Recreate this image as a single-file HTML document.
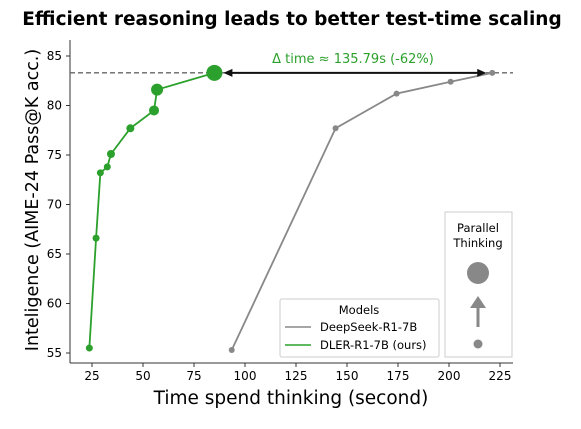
<!DOCTYPE html>
<html><head><meta charset="utf-8"><style>
body{margin:0;background:#fff;}
svg text{font-family:"DejaVu Sans","Liberation Sans",sans-serif;}
</style></head><body>
<svg width="581" height="424" viewBox="0 0 581 424" xmlns="http://www.w3.org/2000/svg">
<text x="292" y="25" text-anchor="middle" font-size="18.5" font-weight="bold">Efficient reasoning leads to better test-time scaling</text>
<g id="axes"></g>
<g id="marks"></g>
<text x="291" y="404" text-anchor="middle" font-size="18.5">Time spend thinking (second)</text>
<text transform="translate(38,200) rotate(-90)" text-anchor="middle" font-size="17.5">Inteligence (AIME-24 Pass@K acc.)</text>
<text x="353" y="63" text-anchor="middle" font-size="13" fill="#2ca02c">Δ time ≈ 135.79s (-62%)</text>
<g>
<rect x="280" y="299" width="159" height="58" fill="#fff" stroke="#ccc" rx="2"/>
<text x="359" y="314" text-anchor="middle" font-size="11.5">Models</text>
<line x1="285" y1="327" x2="311" y2="327" stroke="#888" stroke-width="1.6"/>
<text x="320" y="331" font-size="11.5">DeepSeek-R1-7B</text>
<line x1="285" y1="345" x2="311" y2="345" stroke="#2ca02c" stroke-width="1.6"/>
<text x="320" y="349" font-size="11.5">DLER-R1-7B (ours)</text>
</g>
<g>
<rect x="445" y="212" width="67" height="145" fill="#fff" stroke="#ccc"/>
<text x="478" y="232" text-anchor="middle" font-size="11.5">Parallel</text>
<text x="478" y="247" text-anchor="middle" font-size="11.5">Thinking</text>
<circle cx="478" cy="273" r="11" fill="#888"/>
<line x1="478" y1="327" x2="478" y2="305" stroke="#888" stroke-width="3"/>
<polygon points="470,308 486,308 478,296" fill="#888"/>
<circle cx="478" cy="344" r="4.5" fill="#888"/>
</g>
</svg>
<script>
const dlerTime=[23.7,27,29.1,32.5,34.3,43.8,55.4,56.9,85];
const dlerAcc=[55.5,66.6,73.2,73.8,75.1,77.7,79.5,81.6,83.3];
const dlerSize=[3.5,3.5,3.5,3.5,4,4,5,6,8];
const dsTime=[93.5,144.4,174.3,200.8,221.2];
const dsAcc=[55.3,77.7,81.2,82.4,83.3];
const xTicks=[25,50,75,100,125,150,175,200,225];
const yTicks=[55,60,65,70,75,80,85];
const NS="http://www.w3.org/2000/svg";
const xs=v=>92+(v-25)*2.04;
const ys=v=>353-(v-55)*9.9;
function mk(t,a,p){const e=document.createElementNS(NS,t);for(const k in a)e.setAttribute(k,a[k]);p.appendChild(e);return e;}
const ax=document.getElementById('axes'),mg=document.getElementById('marks');
mk('line',{x1:70,y1:363,x2:513,y2:363,stroke:'#333','stroke-width':1},ax);
mk('line',{x1:70,y1:40,x2:70,y2:363,stroke:'#333','stroke-width':1},ax);
xTicks.forEach(v=>{mk('line',{x1:xs(v),y1:363,x2:xs(v),y2:367,stroke:'#333'},ax);
const t=mk('text',{x:xs(v),y:380,'text-anchor':'middle','font-size':12},ax);t.textContent=v;

});
yTicks.forEach(v=>{mk('line',{x1:66,y1:ys(v),x2:70,y2:ys(v),stroke:'#333'},ax);
const t=mk('text',{x:62,y:ys(v)+4,'text-anchor':'end','font-size':12},ax);t.textContent=v;

});
const ref=dlerAcc[dlerAcc.length-1];
mk('line',{x1:70,y1:ys(ref),x2:513,y2:ys(ref),stroke:'#666','stroke-width':1.3,'stroke-dasharray':'5,3'},mg);
function series(T,A,S,col,name){
const pl=mk('polyline',{points:T.map((t,i)=>xs(t)+','+ys(A[i])).join(' '),fill:'none',stroke:col,'stroke-width':1.8},mg);


T.forEach((t,i)=>{const c=mk('circle',{cx:xs(t),cy:ys(A[i]),r:S[i],fill:col},mg);

});}
series(dsTime,dsAcc,dsTime.map(()=>3),'#888','deepseek');
series(dlerTime,dlerAcc,dlerSize,'#2ca02c','dler');
const x1=xs(dlerTime[dlerTime.length-1])+9,x2=xs(dsTime[dsTime.length-1])-6,y=ys(ref);
mk('line',{x1:x1+6,y1:y,x2:x2-6,y2:y,stroke:'#111','stroke-width':2},mg);
mk('polygon',{points:`${x1},${y} ${x1+9},${y-4} ${x1+9},${y+4}`,fill:'#111'},mg);
mk('polygon',{points:`${x2},${y} ${x2-9},${y-4} ${x2-9},${y+4}`,fill:'#111'},mg);
</script>
</body></html>
